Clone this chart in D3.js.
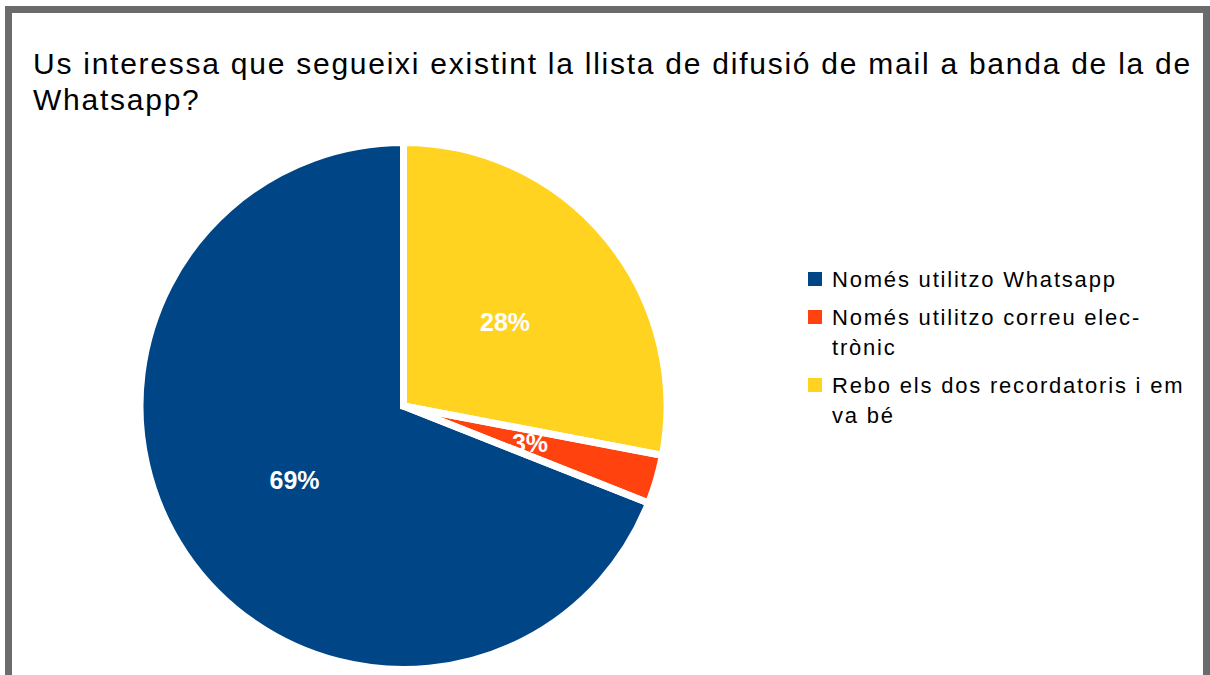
<!DOCTYPE html>
<html>
<head>
<meta charset="utf-8">
<script src="https://cdn.jsdelivr.net/npm/d3@7"></script>
<style>
  html, body { margin: 0; padding: 0; background: #fff; }
  svg { display: block; }
  text { font-family: "Liberation Sans", Arial, sans-serif; }
</style>
</head>
<body>
<svg id="chart" width="1210" height="675"></svg>
<script>
const titleLines = ["Us interessa que segueixi existint la llista de difusió de mail a banda de la de", "Whatsapp?"];
const categories = ["Només utilitzo Whatsapp", "Només utilitzo correu electrònic", "Rebo els dos recordatoris i em va bé"];
const legendLines = [["Només utilitzo Whatsapp"], ["Només utilitzo correu elec-", "trònic"], ["Rebo els dos recordatoris i em", "va bé"]];
const values = [69, 3, 28];
const colors = ["#004586", "#ff420e", "#ffd320"];

const svg = d3.select("#chart");
const W = 1210, H = 675;

svg.append("rect").attr("x", 0).attr("y", 0).attr("width", W).attr("height", H).attr("fill", "#fff");
// frame
svg.append("rect")
  .attr("x", 8.5).attr("y", 9.5).attr("width", 1198).attr("height", 700)
  .attr("fill", "none").attr("stroke", "#6b6b6b").attr("stroke-width", 7);

// title
const title = svg.append("text").attr("x", 33).attr("y", 74)
  .attr("font-size", 30).attr("letter-spacing", 1.75).attr("fill", "#000");
titleLines.forEach((l, i) => {
  title.append("tspan").attr("x", 33).attr("y", 74 + i * 36).text(l);
});

// pie
const cx = 403.5, cy = 406, r = 263.5;
const total = d3.sum(values);
const pie = d3.pie().sort(null).value(d => d).startAngle(0).endAngle(-2 * Math.PI);
const arcs = pie(values);
const arc = d3.arc().innerRadius(0).outerRadius(r);
const g = svg.append("g").attr("transform", `translate(${cx},${cy})`);

g.selectAll("path.fill").data(arcs).join("path")
  .attr("class", "fill").attr("d", arc).attr("fill", (d, i) => colors[i]);
g.selectAll("path.edge").data(arcs).join("path")
  .attr("class", "edge").attr("d", arc).attr("fill", "none")
  .attr("stroke", "#fff").attr("stroke-width", 7).attr("stroke-linejoin", "miter");

const labelArc = d3.arc().innerRadius(r / 2).outerRadius(r / 2);
g.selectAll("text.lbl").data(arcs).join("text")
  .attr("class", "lbl")
  .attr("transform", d => `translate(${labelArc.centroid(d)})`)
  .attr("text-anchor", "middle")
  .attr("dy", "0.36em")
  .attr("font-size", 25).attr("font-weight", "bold").attr("fill", "#fff")
  .text((d, i) => d3.format(".0%")(values[i] / total));

// legend
const legend = svg.append("g");
let y = 287;
legendLines.forEach((lines, i) => {
  legend.append("rect").attr("x", 808).attr("y", y - 15).attr("width", 14).attr("height", 14).attr("fill", colors[i]);
  lines.forEach((l, j) => {
    legend.append("text").attr("x", 832).attr("y", y + j * 30)
      .attr("font-size", 22).attr("letter-spacing", 1.8).attr("fill", "#000").text(l);
  });
  y += (lines.length - 1) * 30 + 38;
});
</script>
</body>
</html>
